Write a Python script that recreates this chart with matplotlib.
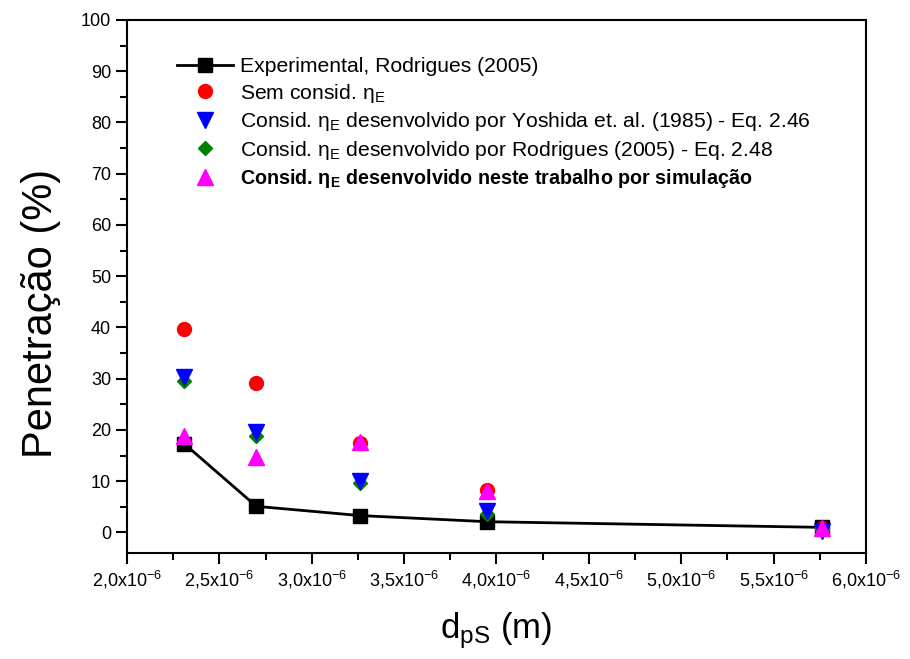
import numpy as np
import matplotlib
matplotlib.use("Agg")
from matplotlib import pyplot as plt
from matplotlib.ticker import MultipleLocator, FuncFormatter

plt.rcParams['font.family'] = ['Liberation Sans', 'DejaVu Sans']
plt.rcParams['mathtext.fontset'] = 'custom'
plt.rcParams['mathtext.rm'] = 'Liberation Sans'
plt.rcParams['mathtext.it'] = 'Liberation Sans:italic'
plt.rcParams['mathtext.bf'] = 'Liberation Sans:bold'
plt.rcParams['axes.unicode_minus'] = False

# particle diameter (m)
dps = [2.31e-6, 2.70e-6, 3.26e-6, 3.95e-6, 5.76e-6]

# penetration (%)
experimental = [17.3, 5.1, 3.3, 2.1, 1.0]
sem_consid = [39.7, 29.2, 17.5, 8.2, 0.8]
yoshida = [30.3, 19.6, 10.1, 4.2, 0.3]
rodrigues = [29.5, 18.8, 9.6, 3.6, 0.5]
simulacao = [18.8, 14.7, 17.6, 8.1, 0.8]

labels = [
    "Experimental, Rodrigues (2005)",
    r"Sem consid. $\mathrm{\eta}_\mathrm{E}$",
    r"Consid. $\mathrm{\eta}_\mathrm{E}$ desenvolvido por Yoshida et. al. (1985) - Eq. 2.46",
    r"Consid. $\mathrm{\eta}_\mathrm{E}$ desenvolvido por Rodrigues (2005) - Eq. 2.48",
    r"Consid. $\mathbf{\eta}_\mathbf{E}$ desenvolvido neste trabalho por simulação",
]

fig = plt.figure(figsize=(9.1, 6.59), dpi=100)
ax = fig.add_axes([0.1396, 0.1609, 0.812, 0.8088])

ax.plot(dps, experimental, '-s', color='black', lw=2, ms=9.5, label=labels[0], zorder=3)
ax.plot(dps, sem_consid, 'o', color='red', ms=10, ls='none', label=labels[1], zorder=3)
ax.plot(dps, yoshida, 'v', color='blue', ms=11, ls='none', label=labels[2], zorder=4)
ax.plot(dps, rodrigues, 'D', color='green', ms=7.5, ls='none', label=labels[3], zorder=3)
ax.plot(dps, simulacao, '^', color='magenta', ms=11, ls='none', label=labels[4], zorder=5)

ax.set_xlim(2.0e-6, 6.0e-6)
ax.set_ylim(-4, 100)
ax.xaxis.set_major_locator(MultipleLocator(0.5e-6))
ax.xaxis.set_minor_locator(MultipleLocator(0.25e-6))
ax.yaxis.set_major_locator(MultipleLocator(10))
ax.yaxis.set_minor_locator(MultipleLocator(5))

def fmt_x(v, pos):
    return ("%.1f" % (v * 1e6)).replace('.', ',') + r"x10$^\mathregular{-6}$"

ax.xaxis.set_major_formatter(FuncFormatter(fmt_x))
ax.tick_params(which='major', direction='out', length=8, width=1.5, labelsize=13)
ax.tick_params(which='minor', direction='out', length=5, width=1.5)
for s in ax.spines.values():
    s.set_linewidth(1.5)

ax.set_xlabel(r"d$_\mathregular{pS}$ (m)", fontsize=25, labelpad=14)
ax.set_ylabel("Penetração (%)", fontsize=30, labelpad=14, y=0.45)

leg = ax.legend(loc='upper left', bbox_to_anchor=(0.056, 0.946), frameon=False,
                fontsize=15.2, handlelength=2.65, handletextpad=0.33,
                labelspacing=0.26, borderaxespad=0)
leg.get_texts()[4].set_fontweight('bold')
leg.get_texts()[4].set_fontsize(14.2)

fig.savefig("out.png", dpi=100)
